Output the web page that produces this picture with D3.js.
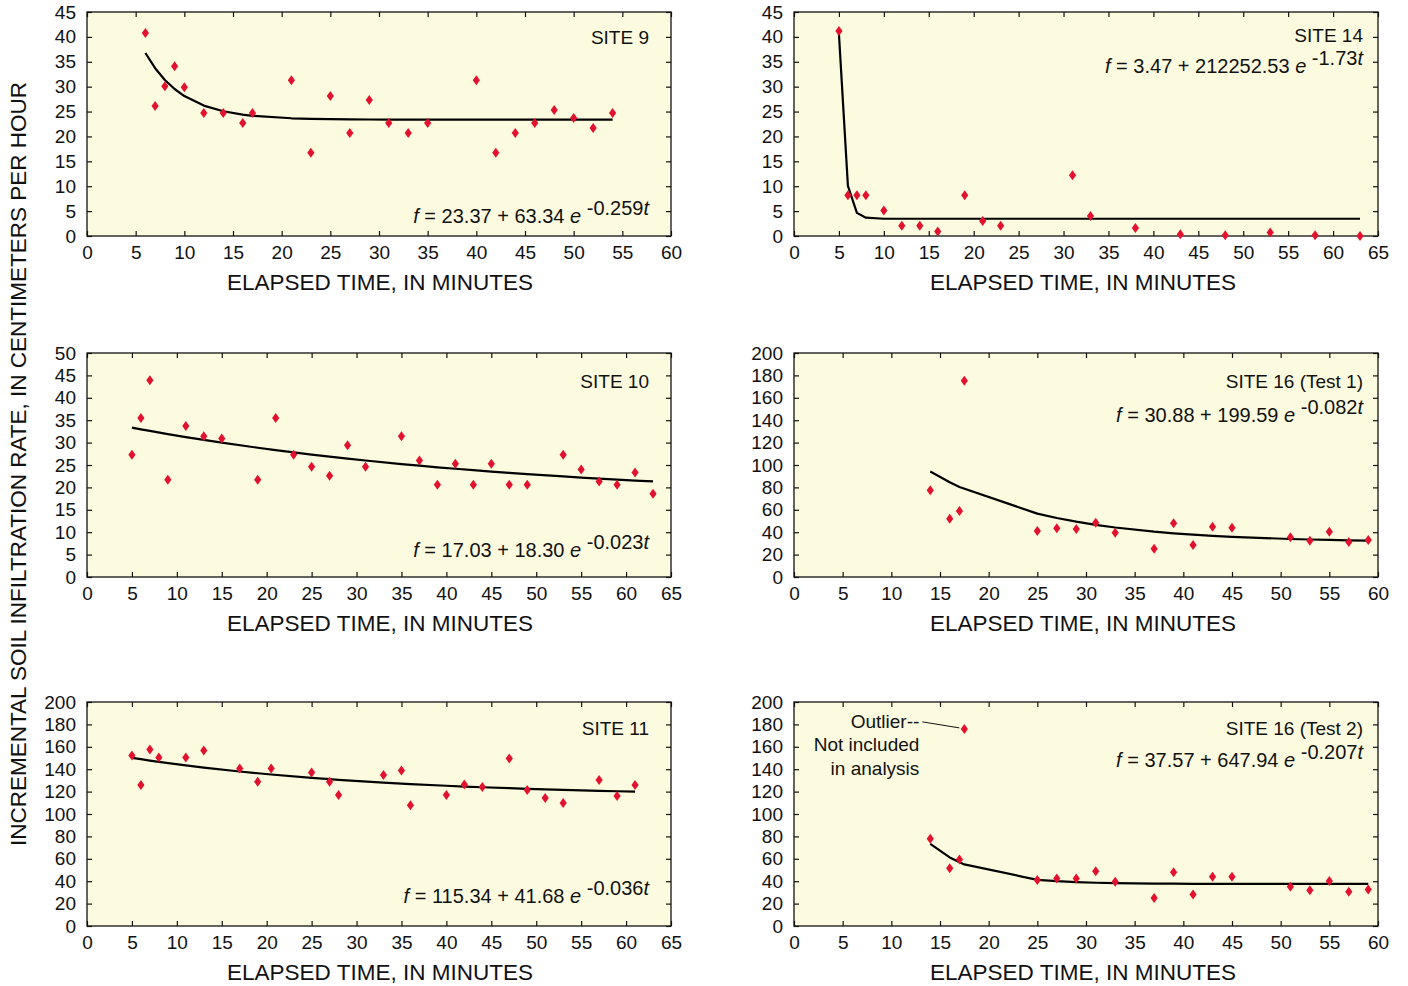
<!DOCTYPE html>
<html>
<head>
<meta charset="utf-8">
<script src="https://cdn.jsdelivr.net/npm/d3@7/dist/d3.min.js"></script>
<style>
  body { margin: 0; background: #fff; }
  svg { font-family: "Liberation Sans", Arial, Helvetica, sans-serif; }
</style>
</head>
<body>
<div id="container"></div>
<script>
var width = 1408;
var height = 986;

// ---- data ----
// Site 9
var site9Time = [6, 7, 8, 9, 10, 12, 14, 16, 17, 21, 23, 25, 27, 29, 31, 33, 35, 40, 42, 44, 46, 48, 50, 52, 54];
var site9Rate = [40.8, 26.1, 30.1, 34.1, 29.9, 24.7, 24.7, 22.7, 24.7, 31.3, 16.7, 28.1, 20.7, 27.3, 22.7, 20.7, 22.7, 31.3, 16.7, 20.7, 22.7, 25.3, 23.7, 21.7, 24.7];
var site9FitTime = [6, 7, 8, 9, 10, 12, 14, 16, 17, 21, 23, 25, 27, 29, 31, 35, 40, 54];
var site9Fit = [36.76, 33.71, 31.35, 29.53, 28.12, 26.2, 25.06, 24.37, 24.15, 23.65, 23.53, 23.47, 23.43, 23.4, 23.38, 23.37, 23.37, 23.37];

// Site 14
var site14Time = [5, 6, 7, 8, 10, 12, 14, 16, 19, 21, 23, 31, 33, 38, 43, 48, 53, 58, 63];
var site14Rate = [41.2, 8.2, 8.2, 8.2, 5.1, 2.05, 2.05, 0.9, 8.2, 3.0, 2.05, 12.2, 4.0, 1.6, 0.35, 0.15, 0.7, 0.15, 0];
var site14FitTime = [5, 6, 7, 8, 10, 63];
var site14Fit = [40.6, 10.07, 4.64, 3.68, 3.47, 3.47];

// Site 10
var site10Time = [5, 6, 7, 9, 11, 13, 15, 19, 21, 23, 25, 27, 29, 31, 35, 37, 39, 41, 43, 45, 47, 49, 53, 55, 57, 59, 61, 63];
var site10Rate = [27.3, 35.5, 43.9, 21.7, 33.7, 31.4, 30.9, 21.7, 35.5, 27.3, 24.6, 22.6, 29.4, 24.6, 31.4, 26.0, 20.6, 25.3, 20.6, 25.3, 20.6, 20.6, 27.3, 24.0, 21.3, 20.6, 23.3, 18.6];
var site10FitTime = [5, 6, 7, 9, 11, 13, 15, 19, 21, 23, 25, 27, 29, 31, 35, 37, 39, 41, 43, 45, 47, 49, 53, 55, 57, 59, 61, 63];
var site10Fit = [33.34, 32.97, 32.61, 31.91, 31.24, 30.6, 29.99, 28.85, 28.32, 27.81, 27.33, 26.86, 26.42, 26.0, 25.21, 24.84, 24.49, 24.16, 23.84, 23.53, 23.24, 22.96, 22.44, 22.2, 21.96, 21.74, 21.53, 21.33];

// Site 16 (Test 1)
var site16aTime = [14, 16, 17, 17.5, 25, 27, 29, 31, 33, 37, 39, 41, 43, 45, 51, 53, 55, 57, 59];
var site16aRate = [77.4, 52.1, 58.9, 175.3, 41.1, 43.5, 42.9, 48.5, 39.6, 25.3, 47.9, 28.6, 44.9, 44.0, 35.4, 32.4, 40.5, 31.3, 33.0];
var site16aFitTime = [14, 16, 17, 25, 27, 29, 31, 33, 37, 39, 41, 43, 45, 51, 53, 55, 57, 59];
var site16aFit = [94.21, 84.63, 80.4, 56.57, 52.69, 49.39, 46.59, 44.21, 40.48, 39.03, 37.8, 36.75, 35.86, 33.93, 33.47, 33.08, 32.74, 32.46];

// Site 11
var site11Time = [5, 6, 7, 8, 11, 13, 17, 19, 20.5, 25, 27, 28, 33, 35, 36, 40, 42, 44, 47, 49, 51, 53, 57, 59, 61];
var site11Rate = [152.2, 126.0, 157.6, 150.4, 150.4, 156.7, 140.6, 128.7, 140.6, 137.0, 128.7, 117.0, 134.9, 138.8, 107.8, 117.0, 126.3, 124.2, 149.6, 121.5, 114.3, 109.9, 130.4, 116.1, 126.0];
var site11FitTime = [5, 6, 7, 8, 11, 13, 17, 19, 20.5, 25, 27, 28, 33, 35, 36, 40, 42, 44, 47, 49, 51, 53, 57, 59, 61];
var site11Fit = [150.16, 148.92, 147.73, 146.59, 143.39, 141.44, 137.94, 136.37, 135.27, 132.29, 131.11, 130.55, 128.04, 127.16, 126.74, 125.21, 124.53, 123.89, 123.02, 122.48, 121.98, 121.52, 120.7, 120.32, 119.98];

// Site 16 (Test 2)
var site16bTime = [14, 16, 17, 17.5, 25, 27, 29, 31, 33, 37, 39, 41, 43, 45, 51, 53, 55, 57, 59];
var site16bRate = [77.8, 51.5, 59.3, 176.0, 41.0, 42.5, 42.5, 48.8, 39.5, 25.1, 47.9, 28.1, 44.0, 44.0, 35.0, 32.0, 40.1, 30.5, 32.6];
var site16bFitTime = [14, 16, 17.5, 25, 27, 29, 31, 33, 37, 39, 41, 45, 51, 59];
var site16bFit = [73.28, 61.19, 55.0, 41.24, 39.99, 39.17, 38.63, 38.27, 37.88, 37.77, 37.7, 37.63, 37.59, 37.57];

// axis extents and tick steps
var xMaxes = [60, 65, 65, 60, 65, 60];
var yMaxes = [45, 45, 50, 200, 200, 200];
var yStepsList = [5, 5, 5, 20, 20, 20];
var siteLabels = ["SITE 9", "SITE 14", "SITE 10", "SITE 16 (Test 1)", "SITE 11", "SITE 16 (Test 2)"];
var eqBody = [" = 23.37 + 63.34 ", " = 3.47 + 212252.53 ", " = 17.03 + 18.30 ", " = 30.88 + 199.59 ", " = 115.34 + 41.68 ", " = 37.57 + 647.94 "];
var eqRate = ["-0.259", "-1.73", "-0.023", "-0.082", "-0.036", "-0.207"];
var outlierNote = ["Outlier--", "Not included", "in analysis"];

var xTitle = "ELAPSED TIME, IN MINUTES";
var yTitle = "INCREMENTAL SOIL INFILTRATION RATE, IN CENTIMETERS PER HOUR";

// ---- layout ----
var panelW = 584, panelH = 224;
var colX = [87, 794];
var rowY = [12, 353, 702];
var textInset = [22, 15];   // right inset of labels, per column
var labelBase = [32, 30, 35, 35, 33, 33];     // baseline of site label inside panel
var eqBase = [211, 61, 204, 69, 201, 65];     // baseline of equation inside panel
var bg = "#fdfbdf";
var red = "#e2122f";

var panels = [
  {t: site9Time, r: site9Rate, ft: site9FitTime, f: site9Fit},
  {t: site14Time, r: site14Rate, ft: site14FitTime, f: site14Fit},
  {t: site10Time, r: site10Rate, ft: site10FitTime, f: site10Fit},
  {t: site16aTime, r: site16aRate, ft: site16aFitTime, f: site16aFit},
  {t: site11Time, r: site11Rate, ft: site11FitTime, f: site11Fit},
  {t: site16bTime, r: site16bRate, ft: site16bFitTime, f: site16bFit, outlier: 3}
];

const svg = d3.create("svg")
  .attr("width", width)
  .attr("height", height);

svg.append("rect").attr("width", width).attr("height", height).attr("fill", "#fff");

// shared y title
svg.append("text")
  .attr("transform", "translate(26," + 464 + ") rotate(-90)")
  .attr("text-anchor", "middle")
  .attr("font-size", 22.5)
  .attr("fill", "#111")
  .text(yTitle);

panels.forEach(function(p, i) {
  var col = i % 2;
  var x0 = colX[col], y0 = rowY[Math.floor(i / 2)];
  var g = svg.append("g").attr("transform", "translate(" + x0 + "," + y0 + ")");

  var x = d3.scaleLinear().domain([0, xMaxes[i]]).range([0, panelW]);
  var y = d3.scaleLinear().domain([0, yMaxes[i]]).range([panelH, 0]);
  var xt = d3.range(0, xMaxes[i] + 0.1, 5);
  var yt = d3.range(0, yMaxes[i] + 0.1, yStepsList[i]);

  g.append("rect").attr("width", panelW).attr("height", panelH).attr("fill", bg);

  // inward ticks on all four sides
  var tl = 5;
  g.append("g").attr("transform", "translate(0," + panelH + ")")
    .call(d3.axisBottom(x).tickValues(xt).tickSizeInner(-tl).tickSizeOuter(0).tickPadding(10))
    .call(function(a) { a.select(".domain").remove(); });
  g.append("g")
    .call(d3.axisTop(x).tickValues(xt).tickSizeInner(-tl).tickSizeOuter(0).tickFormat(""))
    .call(function(a) { a.select(".domain").remove(); });
  g.append("g")
    .call(d3.axisLeft(y).tickValues(yt).tickSizeInner(-tl).tickSizeOuter(0).tickPadding(11))
    .call(function(a) { a.select(".domain").remove(); });
  g.append("g").attr("transform", "translate(" + panelW + ",0)")
    .call(d3.axisRight(y).tickValues(yt).tickSizeInner(-tl).tickSizeOuter(0).tickFormat(""))
    .call(function(a) { a.select(".domain").remove(); });

  g.selectAll(".tick line").attr("stroke", "#111").attr("stroke-width", 1.2);
  g.selectAll(".tick text")
    .attr("font-family", "Liberation Sans, Arial, sans-serif")
    .attr("font-size", 19).attr("fill", "#111");

  g.append("rect").attr("width", panelW).attr("height", panelH)
    .attr("fill", "none").attr("stroke", "#111").attr("stroke-width", 1.3);

  // fitted curve
  var line = d3.line()
    .x(function(d) { return x(d[0]); })
    .y(function(d) { return y(d[1]); });
  g.append("path")
    .datum(d3.zip(p.ft, p.f))
    .attr("d", line)
    .attr("fill", "none")
    .attr("stroke", "#000")
    .attr("stroke-width", 2.2)
    .attr("stroke-linejoin", "round");

  // observations as red diamonds
  g.selectAll(".pt").data(d3.zip(p.t, p.r)).enter().append("path")
    .attr("class", "pt")
    .attr("d", "M0,-5L3.6,0L0,5L-3.6,0Z")
    .attr("fill", red)
    .attr("transform", function(d) { return "translate(" + x(d[0]) + "," + y(d[1]) + ")"; });

  // site label
  g.append("text")
    .attr("x", panelW - textInset[col]).attr("y", labelBase[i])
    .attr("text-anchor", "end")
    .attr("font-size", 19).attr("fill", "#111")
    .text(siteLabels[i]);

  // equation
  var eq = g.append("text")
    .attr("x", panelW - textInset[col])
    .attr("y", eqBase[i])
    .attr("text-anchor", "end")
    .attr("font-size", 20).attr("fill", "#111");
  eq.append("tspan").attr("font-style", "italic").text("f");
  eq.append("tspan").text(eqBody[i]);
  eq.append("tspan").attr("font-style", "italic").text("e");
  eq.append("tspan").attr("dy", -8).text(" " + eqRate[i]);
  eq.append("tspan").attr("font-style", "italic").text("t");

  // x title
  g.append("text")
    .attr("x", panelW / 2 + (col ? -3 : 1)).attr("y", panelH + 54)
    .attr("text-anchor", "middle")
    .attr("font-size", 22.5).attr("fill", "#111")
    .text(xTitle);

  // outlier annotation
  if (p.outlier !== undefined) {
    var ox = x(p.t[p.outlier]), oy = y(p.r[p.outlier]);
    g.append("line")
      .attr("x1", ox - 42).attr("y1", oy - 7)
      .attr("x2", ox - 5).attr("y2", oy - 1)
      .attr("stroke", "#111").attr("stroke-width", 1);
    g.selectAll(".note").data(outlierNote).enter().append("text")
      .attr("x", ox - 45)
      .attr("y", function(d, k) { return oy - 1 + k * 23.5; })
      .attr("text-anchor", "end")
      .attr("font-size", 19).attr("fill", "#111")
      .text(function(d) { return d; });
  }
});

document.getElementById("container").append(svg.node());
</script>
</body>
</html>
